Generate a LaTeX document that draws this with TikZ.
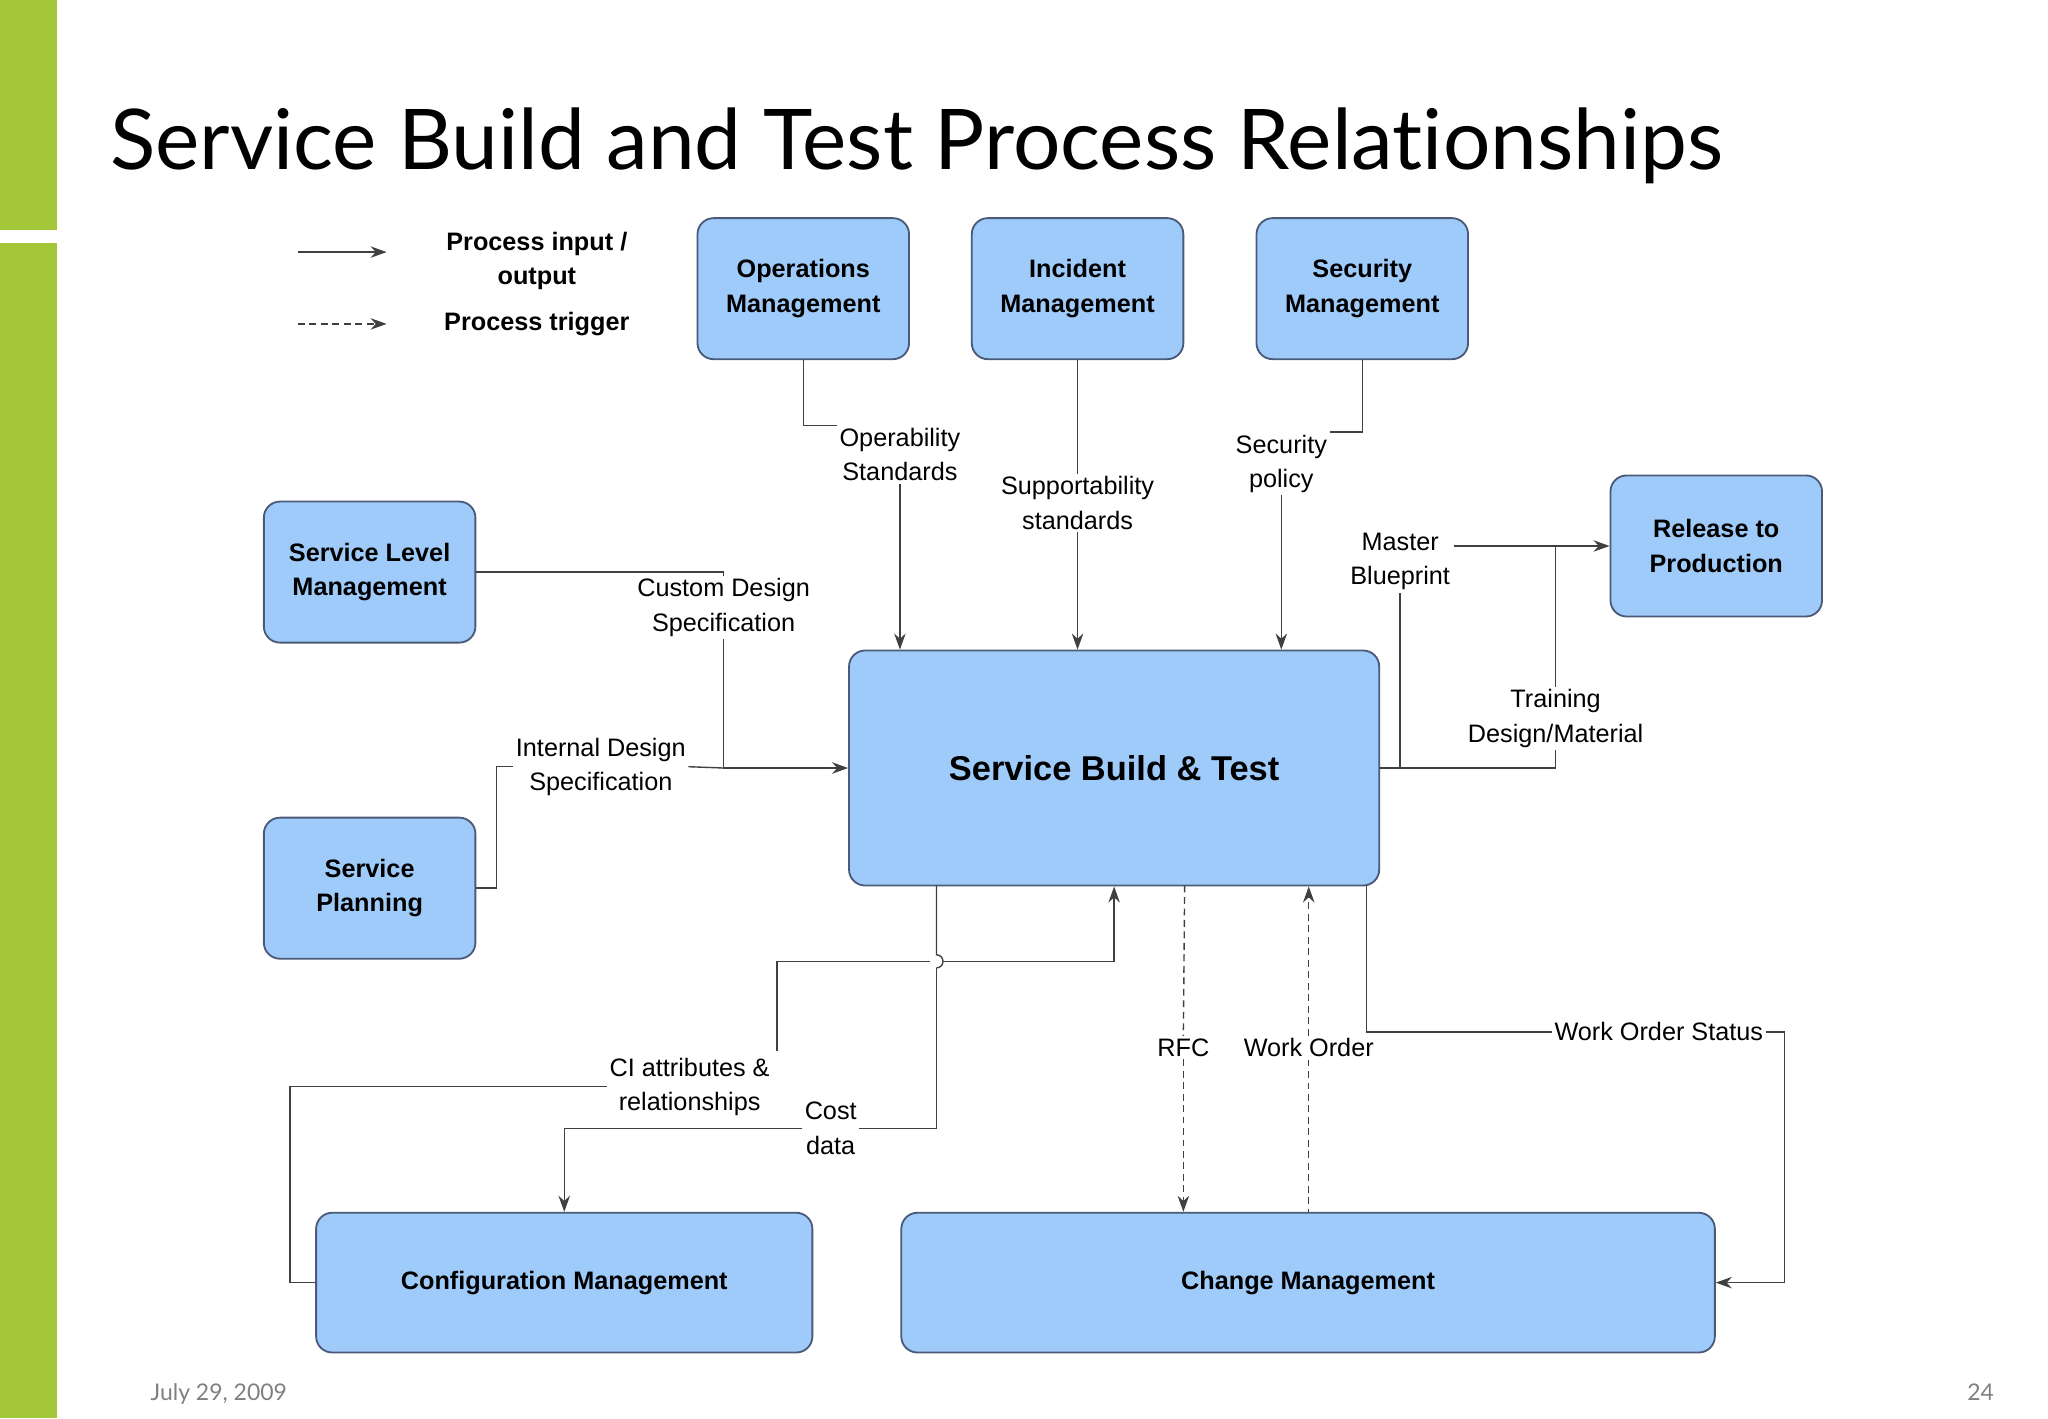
\documentclass[tikz,border=0pt]{standalone}
\usepackage{fontspec}
\setmainfont{Liberation Sans}
\newfontfamily\titlefont[Ligatures=NoCommon,Contextuals=NoAlternate]{Lato}
\usetikzlibrary{arrows.meta}
\definecolor{bfill}{HTML}{9FCBFA}
\definecolor{bdraw}{HTML}{4A5A78}
\definecolor{grn}{HTML}{A4C639}
\begin{document}
\begin{tikzpicture}[x=0.02cm,y=-0.02cm,
  box/.style={draw=bdraw,fill=bfill,rounded corners=7pt,line width=0.8pt,align=center,font=\fontsize{11}{15}\selectfont\bfseries,minimum width=3.24cm,minimum height=2.16cm},
  lab/.style={align=center,inner sep=1pt,font=\fontsize{11}{15}\selectfont},
  ln/.style={draw=black!75,line width=0.6pt},
  arr/.style={ln,-{Stealth[length=7pt,width=5pt]}},
  dsh/.style={dashed,dash pattern=on 3pt off 2pt}]
\useasboundingbox (0,0) rectangle (1568,1086);
\fill[grn] (0,0) rectangle (44,176);
\fill[grn] (0,186) rectangle (44,1086);
\node[anchor=base west,inner sep=0,font=\titlefont\fontsize{36.5}{42}\selectfont] (title) at (84,130) {Service Build and Test Process Relationships};
\node[anchor=base west,inner sep=0,text=black!50,font=\titlefont\fontsize{10}{12}\selectfont] (date) at (115,1072) {July 29, 2009};
\node[anchor=base east,inner sep=0,text=black!50,font=\titlefont\fontsize{10}{12}\selectfont] (pg) at (1527,1072) {24};
% legend
\coordinate (l1a) at (228,193); \coordinate (l1b) at (296,193);
\coordinate (l2a) at (228,248); \coordinate (l2b) at (296,248);
\draw[arr] (l1a) -- (l1b);
\draw[arr,dsh] (l2a) -- (l2b);
\node[lab,font=\fontsize{11}{15}\selectfont\bfseries] (lg1) at (411,200) {Process input /\\output};
\node[lab,font=\fontsize{11}{15}\selectfont\bfseries] (lg2) at (411,248) {Process trigger};
% boxes
\node[box] (ops) at (615,221) {Operations\\Management};
\node[box] (inc) at (825,221) {Incident\\Management};
\node[box] (sec) at (1043,221) {Security\\Management};
\node[box] (slm) at (283,438) {Service Level\\Management};
\node[box] (rel) at (1314,418) {Release to\\Production};
\node[box] (sp) at (283,680) {Service\\Planning};
\node[box,minimum width=8.12cm,minimum height=3.6cm,font=\fontsize{15}{18}\selectfont\bfseries] (sbt) at (853,588) {Service Build \& Test};
\node[box,minimum width=7.6cm,minimum height=2.14cm] (cfg) at (432,982) {Configuration Management};
\node[box,minimum width=12.46cm,minimum height=2.14cm] (chg) at (1001.5,982) {Change Management};
% labels
\node[lab] (opl) at (689,348) {Operability\\Standards};
\node[lab] (supl) at (825,385) {Supportability\\standards};
\node[lab] (secl) at (981,355) {Security\\policy};
\node[lab] (cds) at (554,465) {Custom Design\\Specification};
\node[lab] (ids) at (460,587) {Internal Design\\Specification};
\node[lab] (mb) at (1072,430) {Master\\Blueprint};
\node[lab] (tdm) at (1191,550) {Training\\Design/Material};
\node[lab] (cost) at (636,864) {Cost\\data};
\node[lab] (ci) at (528,832) {CI attributes \&\\relationships};
\node[lab] (rfc) at (906,802) {RFC};
\node[lab] (wo) at (1002,802) {Work Order};
\node[lab] (wos) at (1270,790) {Work Order Status};
% connectors
\draw[ln] (ops.south) |- (opl.north west);
\draw[arr] (opl.south) -- (opl.south |- sbt.north);
\draw[ln] (inc.south) -- (supl.north);
\draw[arr] (supl.south) -- (supl.south |- sbt.north);
\draw[ln] (sec.south) |- (secl.north east);
\draw[arr] (secl.south) -- (secl.south |- sbt.north);
\draw[ln] (slm.east) -| (cds.north);
\draw[arr] (cds.south) |- (sbt.west);
\draw[ln] (sp.east) -- (380,680) |- (ids.west);
\draw[ln] (ids.east) -- (554,588);
\draw[ln] (sbt.east) -| (tdm.south);
\draw[arr] (tdm.north) |- (rel.west);
\draw[ln] (mb.south) -- (mb.south |- sbt.east);
\coordinate (mbr) at (1113,418);
\draw[ln] (mbr) -- (1192,418);
% bottom
\coordinate (cx) at (717,678);
\draw[ln] (cx) -- (717,731) arc[start angle=-90,end angle=90,radius=5] ;
\draw[ln] (717,741) |- (cost.east);
\draw[arr] (cost.west) -| (cfg.north);
\draw[ln] (cfg.west) -- (222,982) |- (ci.west);
\coordinate (cit) at (595,805);
\draw[ln] (cit) -- (595,736) -- (712,736);
\draw[arr] (722,736) -| (sbt.south);
\draw[arr,dsh] (rfc.south) -- (rfc.south |- chg.north);
\draw[ln,dsh] (907,678) -- (rfc.north);
\draw[arr,dsh] (wo.north) -- (wo.north |- sbt.south);
\draw[ln,dsh] (wo.south) -- (wo.south |- chg.north);
\draw[ln] (1046,678) |- (wos.west);
\draw[arr] (wos.east) -- (1366,790) |- (chg.east);
\end{tikzpicture}
\end{document}
